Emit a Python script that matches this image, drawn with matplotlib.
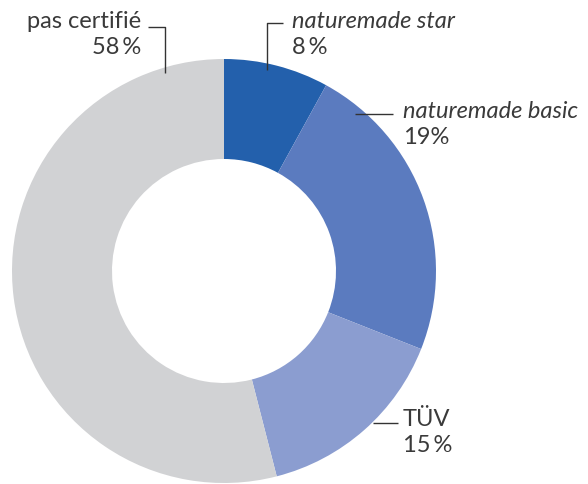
import matplotlib
matplotlib.use('Agg')
import matplotlib.pyplot as plt

labels = ['naturemade star', 'naturemade basic', 'TÜV', 'pas certifié']
# wedge sizes as drawn in the picture (angles), labels as printed
shares = [8, 23, 15, 54]
pct_text = ['8\u2009%', '19%', '15\u2009%', '58\u2009%']
italic = [True, True, False, False]
colors = ['#2360ac', '#5b7bbf', '#8b9dd0', '#d1d2d4']

W, H = 588, 484


def main():
    plt.rcParams['font.family'] = ['Lato', 'DejaVu Sans']
    fig = plt.figure(figsize=(W / 100, H / 100), dpi=100)
    ax = fig.add_axes([0, 0, 1, 1])

    cx, cy, r = 224, H - 271, 212
    ax.pie(shares, colors=colors, startangle=90, counterclock=False,
           center=(cx, cy), radius=r, frame=True,
           wedgeprops=dict(width=100, linewidth=0))
    ax.set_xlim(0, W)
    ax.set_ylim(0, H)
    ax.set_aspect('auto')
    ax.axis('off')

    # leader lines, in pixel coords (y flipped)
    def line(xs, ys):
        ax.plot(xs, [H - y for y in ys], color='#333333', lw=1, solid_capstyle='butt')

    line([267, 267, 283], [70, 23, 23])          # naturemade star
    line([355, 393], [114, 114])                 # naturemade basic
    line([373, 398], [423, 423])                 # TÜV
    line([148, 165, 165], [27, 27, 73])          # pas certifié

    # label anchors: (x, y of first line center, ha)
    anchors = [(292, 21, 'left'), (403, 111, 'left'), (403, 420, 'left'), (141, 21, 'right')]
    for lab, pt, it, (x, y, ha) in zip(labels, pct_text, italic, anchors):
        ax.text(x, H - y, lab, ha=ha, va='center', fontsize=17, color='#3a3a3a',
                style='italic' if it else 'normal')
        ax.text(x, H - y - 26, pt, ha=ha, va='center', fontsize=17, color='#3a3a3a')

    fig.savefig('out.png', dpi=100)


if __name__ == '__main__':
    main()
